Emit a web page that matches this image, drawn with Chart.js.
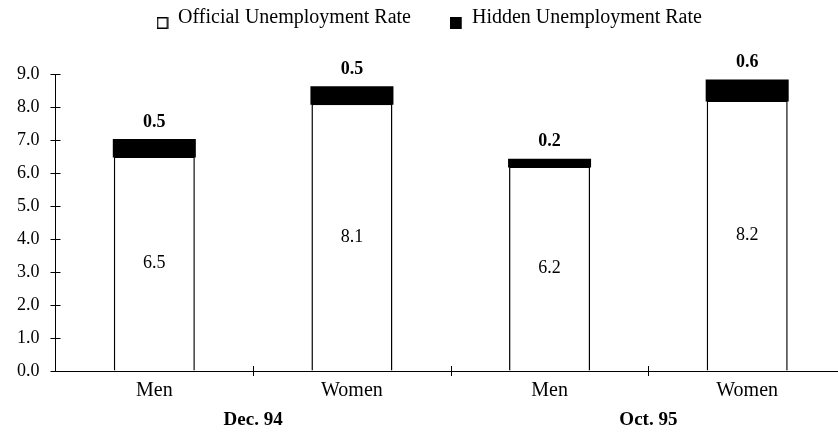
<!DOCTYPE html>
<html lang="en">
<head>
    <meta charset="UTF-8">
    <title>Official and Hidden Unemployment Rate</title>
    <script src="https://cdn.jsdelivr.net/npm/chart.js"></script>
    <style>
        html, body { margin: 0; padding: 0; background: #fff; overflow: hidden; }
        #wrap { position: relative; width: 848px; height: 433px; }
    </style>
</head>
<body>
    <div id="wrap"><canvas id="rates"></canvas></div>

    <script>
        const periods = ['Dec. 94', 'Oct. 95'];
        const categories = ['Men', 'Women', 'Men', 'Women'];
        const officialRate = [6.5, 8.1, 6.2, 8.2];
        const hiddenRate = [0.5, 0.5, 0.2, 0.6];
        const yMin = 0;
        const yMax = 9;
        const yStep = 1;

        const SERIF = '"Liberation Serif", "Times New Roman", serif';

        // legend swatch: a small square sitting low, on the text baseline
        function legendSwatch(fill) {
            const c = document.createElement('canvas');
            c.width = 12;
            c.height = 22;
            const g = c.getContext('2d');
            g.fillStyle = fill;
            g.fillRect(0.5, 10.5, 10, 11);
            g.strokeStyle = '#000';
            g.lineWidth = 1.5;
            g.strokeRect(0.75, 10.75, 10, 10.5);
            return c;
        }

        // short tick marks that cross both axes
        const crossTicks = {
            id: 'crossTicks',
            afterDraw(chart) {
                const { ctx, chartArea, scales } = chart;
                const x = scales.x, y = scales.y;
                ctx.save();
                ctx.strokeStyle = '#000';
                ctx.lineWidth = 1;
                ctx.beginPath();
                for (let v = yMin; v <= yMax; v += yStep) {
                    const py = Math.round(y.getPixelForValue(v)) + 0.5;
                    ctx.moveTo(chartArea.left - 5, py);
                    ctx.lineTo(chartArea.left + 5, py);
                }
                for (let i = 1; i < categories.length; i++) {
                    const px = Math.round((x.getPixelForValue(i - 1) + x.getPixelForValue(i)) / 2) + 0.5;
                    ctx.moveTo(px, chartArea.bottom - 5);
                    ctx.lineTo(px, chartArea.bottom + 5);
                }
                ctx.stroke();
                ctx.restore();
            }
        };

        // numbers inside the official bars and above the hidden part
        const valueLabels = {
            id: 'valueLabels',
            afterDatasetsDraw(chart) {
                const ctx = chart.ctx;
                const official = chart.getDatasetMeta(0);
                const hidden = chart.getDatasetMeta(1);
                ctx.save();
                ctx.fillStyle = '#000';
                ctx.textAlign = 'center';
                ctx.textBaseline = 'middle';
                ctx.font = '18px ' + SERIF;
                official.data.forEach((bar, i) => {
                    ctx.fillText(officialRate[i].toFixed(1), bar.x, (bar.y + bar.base) / 2);
                });
                ctx.font = 'bold 18px ' + SERIF;
                hidden.data.forEach((bar, i) => {
                    ctx.fillText(hiddenRate[i].toFixed(1), bar.x, bar.y - 18);
                });
                ctx.restore();
            }
        };

        // legend sits at the very top, above the reserved band
        const legendPlace = {
            id: 'legendPlace',
            afterLayout(chart) {
                const lg = chart.legend;
                lg.top = -32;
                lg.bottom = 40;
                lg.left += 6;
                lg.right += 6;
            }
        };

        new Chart(document.getElementById('rates'), {
            type: 'bar',
            data: {
                labels: categories,
                datasets: [
                    {
                        label: 'Official Unemployment Rate',
                        data: officialRate,
                        backgroundColor: '#fff',
                        borderColor: '#000',
                        borderWidth: 1.5,
                        pointStyle: legendSwatch('#fff')
                    },
                    {
                        label: 'Hidden Unemployment Rate',
                        data: hiddenRate,
                        backgroundColor: '#000',
                        borderColor: '#000',
                        borderWidth: 0,
                        inflateAmount: 1,
                        pointStyle: legendSwatch('#000')
                    }
                ]
            },
            options: {
                responsive: true,
                maintainAspectRatio: false,
                animation: false,
                datasets: {
                    bar: { barPercentage: 0.41, categoryPercentage: 1 }
                },
                layout: {
                    padding: { left: 1, right: 2, top: 40, bottom: 1 }
                },
                plugins: {
                    tooltip: { enabled: false },
                    legend: {
                        position: 'top',
                        maxHeight: 34,
                        labels: {
                            color: '#000',
                            font: { family: SERIF, size: 20 },
                            usePointStyle: true,
                            boxWidth: 11,
                            boxHeight: 12,
                            padding: 40
                        }
                    }
                },
                scales: {
                    x: {
                        stacked: true,
                        grid: { display: true, drawOnChartArea: false, drawTicks: false },
                        border: { display: true, color: '#000', width: 1 },
                        ticks: {
                            color: '#000',
                            padding: 8,
                            font: { family: SERIF, size: 20 }
                        },
                        afterFit: s => { s.height = 29; }
                    },
                    x2: {
                        type: 'category',
                        position: 'bottom',
                        labels: periods,
                        offset: true,
                        grid: { display: false, drawTicks: false },
                        border: { display: false },
                        ticks: {
                            color: '#000',
                            padding: 9,
                            font: { family: SERIF, size: 19, weight: 'bold' }
                        },
                        afterFit: s => { s.height = 32; }
                    },
                    y: {
                        stacked: true,
                        min: yMin,
                        max: yMax,
                        grid: { display: true, drawOnChartArea: false, drawTicks: false },
                        border: { display: true, color: '#000', width: 1 },
                        ticks: {
                            stepSize: yStep,
                            color: '#000',
                            padding: 16,
                            font: { family: SERIF, size: 18 },
                            callback: v => Number(v).toFixed(1)
                        }
                    }
                }
            },
            plugins: [crossTicks, valueLabels, legendPlace]
        });
    </script>
</body>
</html>
